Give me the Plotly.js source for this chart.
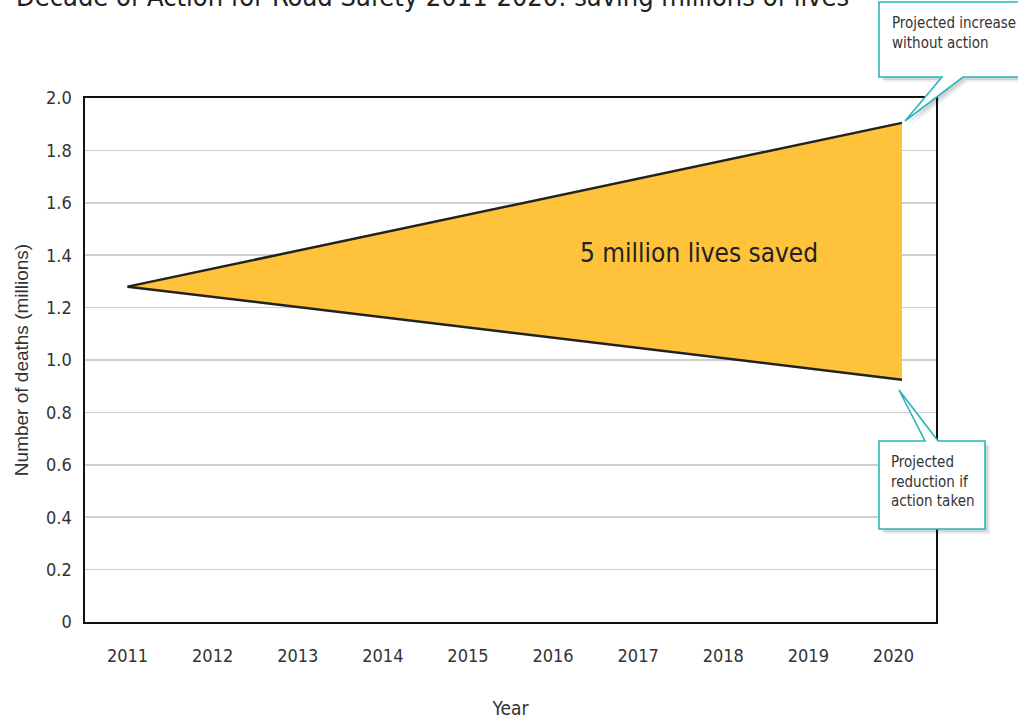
<!DOCTYPE html>
<html>
<head>
<meta charset="utf-8">
<script src="https://cdn.plot.ly/plotly-3.0.1.min.js"></script>
<style>html,body{margin:0;padding:0;background:#fff;}#chart{width:1018px;height:720px;}</style>
</head>
<body>
<div id="chart"></div>
<script>
// ---- Data ----
const years = [2011, 2020.1];
const withoutAction = [1.28, 1.905];   // projected increase without action (millions)
const withAction = [1.28, 0.925];      // projected reduction if action taken (millions)
const xTickYears = [2011, 2012, 2013, 2014, 2015, 2016, 2017, 2018, 2019, 2020];
const yTickVals = [0, 0.2, 0.4, 0.6, 0.8, 1.0, 1.2, 1.4, 1.6, 1.8, 2.0];
const yTickText = ['0', '0.2', '0.4', '0.6', '0.8', '1.0', '1.2', '1.4', '1.6', '1.8', '2.0'];
const titleText = 'Decade of Action for Road Safety 2011-2020: saving millions of lives';
const areaLabel = '5 million lives saved';
const calloutTop = 'Projected increase<br>without action';
const calloutBottom = 'Projected<br>reduction if<br>action taken';

// ---- Layout helpers (pixel -> paper) ----
const W = 1018, H = 720;
const M = {l: 85, r: 82, t: 98, b: 98};
const PW = W - M.l - M.r, PH = H - M.t - M.b;
const px = x => (x - M.l) / PW;
const py = y => (H - M.b - y) / PH;
function path(pts, dx, dy) {
  dx = dx || 0; dy = dy || 0;
  return pts.map((p, i) => (i ? 'L' : 'M') + px(p[0] + dx).toFixed(5) + ',' + py(p[1] + dy).toFixed(5)).join(' ') + ' Z';
}
const COND = '"DejaVu Sans Condensed", "Liberation Sans Narrow", "Arial Narrow", sans-serif';
const teal = '#2bb5ba';
const topPts = [[879, 2], [1030, 2], [1030, 77], [963, 77], [905, 121], [942, 77], [879, 77]];
const botPts = [[879, 441], [925, 441], [899, 390], [938, 441], [985, 441], [985, 529], [879, 529]];

function calloutShapes(pts) {
  return [
    {type: 'path', xref: 'paper', yref: 'paper', path: path(pts, 5, 5), fillcolor: 'rgba(0,0,0,0.07)', line: {width: 0}, layer: 'above'},
    {type: 'path', xref: 'paper', yref: 'paper', path: path(pts, 3, 3), fillcolor: 'rgba(0,0,0,0.10)', line: {width: 0}, layer: 'above'},
    {type: 'path', xref: 'paper', yref: 'paper', path: path(pts), fillcolor: '#ffffff', line: {color: teal, width: 1.6}, layer: 'above'}
  ];
}

const traces = [
  {x: years, y: withAction, type: 'scatter', mode: 'lines', line: {color: '#222222', width: 2.5}, hoverinfo: 'skip', showlegend: false},
  {x: years, y: withoutAction, type: 'scatter', mode: 'lines', fill: 'tonexty', fillcolor: '#fec33a', line: {color: '#222222', width: 2.5}, hoverinfo: 'skip', showlegend: false}
];

const layout = {
  width: W, height: H,
  margin: M,
  paper_bgcolor: '#ffffff', plot_bgcolor: '#ffffff',
  showlegend: false,
  xaxis: {
    range: [2010.5, 2020.5],
    tickvals: xTickYears, ticktext: xTickYears.map(String),
    ticks: 'outside', ticklen: 17, tickcolor: 'rgba(0,0,0,0)',
    showgrid: false, zeroline: false,
    showline: true, mirror: true, linecolor: '#111111', linewidth: 1.6,
    tickfont: {family: COND, size: 18, color: '#333333'},
    title: {text: 'Year', font: {family: COND, size: 19, color: '#333333'}, standoff: 36}
  },
  yaxis: {
    range: [0, 2.0],
    tickvals: yTickVals, ticktext: yTickText,
    ticks: 'outside', ticklen: 8, tickcolor: 'rgba(0,0,0,0)',
    showgrid: true, gridcolor: '#cfcfcf', gridwidth: 1.5,
    zeroline: false,
    showline: true, mirror: true, linecolor: '#111111', linewidth: 1.6,
    tickfont: {family: COND, size: 18, color: '#333333'},
    title: {text: 'Number of deaths (millions)', font: {family: 'Liberation Sans, Arial, sans-serif', size: 19, color: '#333333'}, standoff: 12}
  },
  shapes: calloutShapes(topPts).concat(calloutShapes(botPts)),
  annotations: [
    {text: titleText, xref: 'paper', yref: 'paper', x: px(14), y: py(-4), xanchor: 'left', yanchor: 'middle', showarrow: false,
     font: {family: COND, size: 27, color: '#222222'}},
    {text: areaLabel, xref: 'paper', yref: 'paper', x: px(699), y: py(253), xanchor: 'center', yanchor: 'middle', showarrow: false,
     font: {family: COND, size: 26, color: '#222222'}},
    {text: calloutTop, xref: 'paper', yref: 'paper', x: px(890), y: py(12), xanchor: 'left', yanchor: 'top', align: 'left', showarrow: false,
     font: {family: COND, size: 15, color: '#333333'}},
    {text: calloutBottom, xref: 'paper', yref: 'paper', x: px(889), y: py(451), xanchor: 'left', yanchor: 'top', align: 'left', showarrow: false,
     font: {family: COND, size: 15, color: '#333333'}}
  ]
};

Plotly.newPlot('chart', traces, layout, {displayModeBar: false, staticPlot: true});
</script>
</body>
</html>
